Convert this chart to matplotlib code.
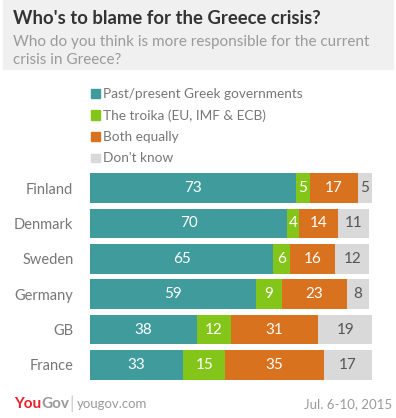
import matplotlib.pyplot as plt
from matplotlib.patches import Rectangle

countries = ["Finland", "Denmark", "Sweden", "Germany", "GB", "France"]
greek_gov = [73, 70, 65, 59, 38, 33]
troika = [5, 4, 6, 9, 12, 15]
both = [17, 14, 16, 23, 31, 35]
dont_know = [5, 11, 12, 8, 19, 17]
series_names = ["Past/present Greek governments", "The troika (EU, IMF & ECB)",
                "Both equally", "Don't know"]
colors = ["#3f9b9c", "#84c51a", "#d9721f", "#d9d9d9"]
label_colors = ["white", "white", "white", "#555555"]

plt.rcParams['font.family'] = ['Lato', 'DejaVu Sans']

fig = plt.figure(figsize=(3.96, 4.18), dpi=100)
W, H = 396, 418

# header band
fig.patches.append(Rectangle((3 / W, 1 - 69 / H), 390 / W, 69 / H,
                             transform=fig.transFigure, color="#f0f0f0", zorder=0))
fig.text(13 / W, 1 - 18 / H, "Who's to blame for the Greece crisis?", fontsize=13.3,
         fontweight="bold", color="#333333", va="center")
fig.text(13 / W, 1 - 42 / H, "Who do you think is more responsible for the current",
         fontsize=11, color="#9a9a9a", va="center")
fig.text(13 / W, 1 - 60 / H, "crisis in Greece?", fontsize=11, color="#9a9a9a", va="center")

# legend
for i, (name, c) in enumerate(zip(series_names, colors)):
    yy = 94 + i * 21.5
    fig.patches.append(Rectangle((91 / W, 1 - (yy + 4) / H), 9 / W, 9 / H,
                                 transform=fig.transFigure, color=c))
    fig.text(103 / W, 1 - yy / H, name, fontsize=9.8, color="#777777", va="center")

ax = fig.add_axes([90 / W, 1 - 382.7 / H, 282 / W, 212.4 / H])
ypos = list(range(len(countries)))
left = [0] * len(countries)
for vals, c, lc in zip([greek_gov, troika, both, dont_know], colors, label_colors):
    ax.barh(ypos, vals, left=left, height=0.84, color=c)
    for y, v, l in zip(ypos, vals, left):
        ax.text(l + v / 2, y, str(v), ha="center", va="center", color=lc, fontsize=11)
    left = [a + b for a, b in zip(left, vals)]

ax.set_xlim(0, 100)
ax.set_ylim(5.5, -0.5)
ax.set_xticks([])
ax.set_yticks(ypos)
ax.set_yticklabels(countries, fontsize=10.5, color="#777777")
ax.tick_params(axis="y", length=0, pad=12)
for s in ax.spines.values():
    s.set_visible(False)

# footer
fig.text(14 / W, 1 - 404 / H, "You", fontsize=11, fontweight="bold", color="#e8202a",
         va="center")
fig.text(41 / W, 1 - 404 / H, "Gov", fontsize=11, fontweight="bold", color="#9a9a9a",
         va="center")
fig.text(69 / W, 1 - 404 / H, "|", fontsize=13, color="#cccccc", va="center")
fig.text(77 / W, 1 - 404 / H, "yougov.com", fontsize=9.5, color="#9a9a9a", va="center")
fig.text(392 / W, 1 - 404 / H, "Jul. 6-10, 2015", fontsize=9.5, color="#9a9a9a",
         va="center", ha="right")

fig.savefig("out.png", dpi=100)
